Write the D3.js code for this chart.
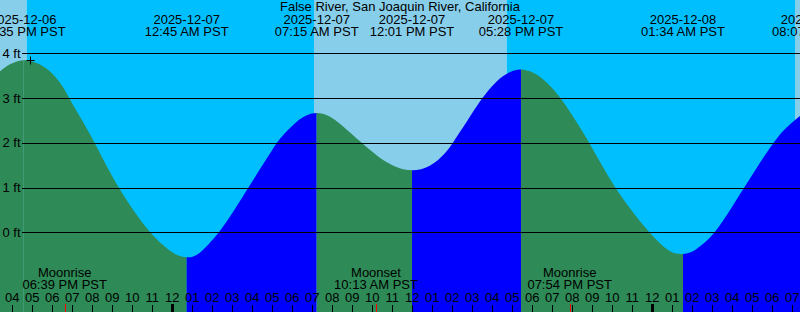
<!DOCTYPE html>
<html>
<head>
<meta charset="utf-8">
<script src="https://cdn.jsdelivr.net/npm/d3@7"></script>
<style>
  body { margin: 0; background: #fff; }
  svg { display: block; font-family: "Liberation Sans", Arial, sans-serif; font-size: 13px; }
</style>
</head>
<body>
<svg id="chart" width="800" height="312"></svg>
<script>
// 站点
const stationName = 'False River, San Joaquin River, California'

// 图的时间范围 (PST, 当作墙上时间处理)
const startTime = '2025-12-06 15:25'
const endTime = '2025-12-08 07:25'

// 高低潮
const tideEventTimes = ['2025-12-06 16:35', '2025-12-07 00:45', '2025-12-07 07:15', '2025-12-07 12:01', '2025-12-07 17:28', '2025-12-08 01:34', '2025-12-08 08:07']
const tideEventLevels = [3.87, -0.57, 2.68, 1.36, 3.66, -0.49, 2.72]

// 曲线上读出的点
const curveTimes = [
  '2025-12-06 15:25', '2025-12-06 15:55', '2025-12-06 17:05', '2025-12-06 17:35', '2025-12-06 18:05',
  '2025-12-06 18:35', '2025-12-06 18:52', '2025-12-06 19:25', '2025-12-06 20:10', '2025-12-06 21:17',
  '2025-12-06 22:50', '2025-12-06 23:45', '2025-12-07 00:15',
  '2025-12-07 01:05', '2025-12-07 01:25', '2025-12-07 02:27', '2025-12-07 03:50', '2025-12-07 05:15',
  '2025-12-07 05:25', '2025-12-07 06:15', '2025-12-07 06:46', '2025-12-07 07:46', '2025-12-07 08:15',
  '2025-12-07 09:25', '2025-12-07 10:25', '2025-12-07 11:15', '2025-12-07 12:55', '2025-12-07 13:45',
  '2025-12-07 14:03', '2025-12-07 14:45', '2025-12-07 15:30', '2025-12-07 16:15', '2025-12-07 16:55',
  '2025-12-07 18:04', '2025-12-07 18:35', '2025-12-07 19:25', '2025-12-07 20:55', '2025-12-07 22:05',
  '2025-12-07 23:50',
  '2025-12-08 00:45', '2025-12-08 01:10', '2025-12-08 01:59', '2025-12-08 02:25', '2025-12-08 03:15',
  '2025-12-08 04:37', '2025-12-08 06:03', '2025-12-08 06:45', '2025-12-08 07:25',
]
const curveLevels = [
  3.60, 3.77, 3.82, 3.72, 3.54,
  3.25, 3.0, 2.58, 2.0, 1.0,
  0.0, -0.36, -0.52,
  -0.55, -0.47, 0.0, 1.0, 2.0,
  2.10, 2.49, 2.63, 2.63, 2.50,
  2.03, 1.64, 1.44, 1.44, 1.79,
  2.0, 2.46, 3.0, 3.40, 3.60,
  3.58, 3.43, 3.06, 2.0, 1.0,
  0.0,
  -0.40, -0.48, -0.46, -0.32, 0.0,
  1.0, 2.0, 2.36, 2.6,
]

// 日出日落
const sunsetTimes = ['2025-12-06 16:45', '2025-12-07 16:45']
const sunriseTimes = ['2025-12-07 07:07', '2025-12-08 07:10']

// 月出月落
const moonEventNames = ['Moonrise', 'Moonset', 'Moonrise']
const moonEventTimes = ['2025-12-06 18:39', '2025-12-07 10:13', '2025-12-07 19:54']

// 当前时刻标记
const nowTime = '2025-12-06 16:54'
const nowLevel = 3.84

const feetTicks = [0, 1, 2, 3, 4]

const W = 800
const H = 312
const colors = {
  day: '#87ceeb',
  night: '#00bfff',
  rising: '#0000ff',
  falling: '#2e8b57',
  moon: '#ff0000',
}

const parse = d3.utcParse('%Y-%m-%d %H:%M')
const fmtDate = d3.utcFormat('%Y-%m-%d')
const fmtTime = d => `${d3.utcFormat('%I:%M %p')(d)} PST`

const svg = d3.select('#chart')

const x = d3.scaleUtc()
  .domain([parse(startTime), parse(endTime)])
  .range([0, W])
const y = d3.scaleLinear()
  .domain([0, 4])
  .range([232.3, 53.3])

// 背景: 白天 / 夜晚
const t0 = parse(startTime)
const t1 = parse(endTime)
const sunBands = []
let cur = t0
let isDay = true
const switches = [...sunsetTimes, ...sunriseTimes].map(parse).sort((a, b) => a - b)
switches.forEach((s) => {
  sunBands.push({ from: cur, to: s, day: isDay })
  cur = s
  isDay = !isDay
})
sunBands.push({ from: cur, to: t1, day: isDay })

svg.append('g')
  .selectAll('rect')
  .data(sunBands)
  .join('rect')
  .attr('x', d => x(d.from))
  .attr('y', 0)
  .attr('width', d => x(d.to) - x(d.from))
  .attr('height', H)
  .attr('fill', d => (d.day ? colors.day : colors.night))

// 潮位曲线 (事件点 + 读出的点)
const events = tideEventTimes.map((t, i) => ({ t: parse(t), v: tideEventLevels[i] }))
const points = curveTimes.map((t, i) => ({ t: parse(t), v: curveLevels[i] }))
  .concat(events.filter(e => e.t <= t1))
  .sort((a, b) => a.t - b.t)

const area = d3.area()
  .x(d => x(d.t))
  .y0(H)
  .y1(d => y(d.v))
  .curve(d3.curveBasis)

svg.append('clipPath')
  .attr('id', 'tide-clip')
  .append('path')
  .attr('d', area(points))

// 涨潮蓝 / 落潮绿
const segs = []
const bounds = [t0, ...events.map(e => e.t).filter(t => t > t0 && t < t1), t1]
for (let i = 0; i < bounds.length - 1; i++) {
  const next = events.find(e => e.t > bounds[i])
  const prev = [...events].reverse().find(e => e.t <= bounds[i])
  const rising = prev ? next.v > prev.v : next.v < 0
  segs.push({ from: bounds[i], to: bounds[i + 1], rising })
}

svg.append('g')
  .attr('clip-path', 'url(#tide-clip)')
  .selectAll('rect')
  .data(segs)
  .join('rect')
  .attr('x', d => x(d.from))
  .attr('y', 0)
  .attr('width', d => x(d.to) - x(d.from))
  .attr('height', H)
  .attr('fill', d => (d.rising ? colors.rising : colors.falling))

// 网格线 + 英尺标签
const grid = svg.append('g')
grid.selectAll('line')
  .data(feetTicks)
  .join('line')
  .attr('x1', 22)
  .attr('x2', W)
  .attr('y1', d => Math.round(y(d)) + 0.5)
  .attr('y2', d => Math.round(y(d)) + 0.5)
  .attr('stroke', '#000')
  .attr('stroke-width', 1)
grid.selectAll('text')
  .data(feetTicks)
  .join('text')
  .attr('x', 20.5)
  .attr('y', d => y(d) + 4.5)
  .attr('text-anchor', 'end')
  .text(d => `${d} ft`)

// 当前时刻 "+"
const nx = Math.round(x(parse(nowTime))) + 0.5
const ny = Math.round(y(nowLevel)) + 0.5
svg.append('path')
  .attr('d', `M${nx - 4},${ny}H${nx + 4}M${nx},${ny - 4}V${ny + 4}`)
  .attr('stroke', '#000')

// 标题
svg.append('text')
  .attr('x', W / 2)
  .attr('y', 11)
  .attr('text-anchor', 'middle')
  .text(stationName)

// 高低潮时间标签
const evLabels = svg.append('g')
  .selectAll('g')
  .data(events)
  .join('g')
  .attr('transform', d => `translate(${x(d.t)},0)`)
evLabels.append('text')
  .attr('y', 24)
  .attr('text-anchor', 'middle')
  .text(d => fmtDate(d.t))
evLabels.append('text')
  .attr('y', 36)
  .attr('text-anchor', 'middle')
  .text(d => fmtTime(d.t))

// 小时刻度
const axis = d3.axisTop(x)
  .ticks(d3.utcHour.every(1))
  .tickFormat(d3.utcFormat('%I'))
  .tickSize(7)
  .tickPadding(3.5)
const axisG = svg.append('g')
  .attr('transform', `translate(0,${H})`)
  .call(axis)
axisG.select('.domain').remove()
axisG.selectAll('text')
  .attr('font-family', '"Liberation Sans", Arial, sans-serif')
  .attr('font-size', 13)
  .attr('fill', '#000')
axisG.selectAll('.tick line')
  .attr('stroke', '#000')
  .attr('shape-rendering', 'crispEdges')
  .filter(d => d.getUTCHours() === 0)
  .attr('stroke-width', 3)
  .attr('y2', -8)

// 月出月落
const moon = moonEventTimes.map((t, i) => ({ t: parse(t), name: moonEventNames[i] }))
svg.append('g')
  .selectAll('line')
  .data(moon)
  .join('line')
  .attr('x1', d => Math.round(x(d.t)) + 0.5)
  .attr('x2', d => Math.round(x(d.t)) + 0.5)
  .attr('y1', H - 8)
  .attr('y2', H)
  .attr('stroke', colors.moon)
const moonLabels = svg.append('g')
  .selectAll('g')
  .data(moon)
  .join('g')
  .attr('transform', d => `translate(${x(d.t)},0)`)
moonLabels.append('text')
  .attr('y', 277)
  .attr('text-anchor', 'middle')
  .text(d => d.name)
moonLabels.append('text')
  .attr('y', 289)
  .attr('text-anchor', 'middle')
  .text(d => fmtTime(d.t))
</script>
</body>
</html>
